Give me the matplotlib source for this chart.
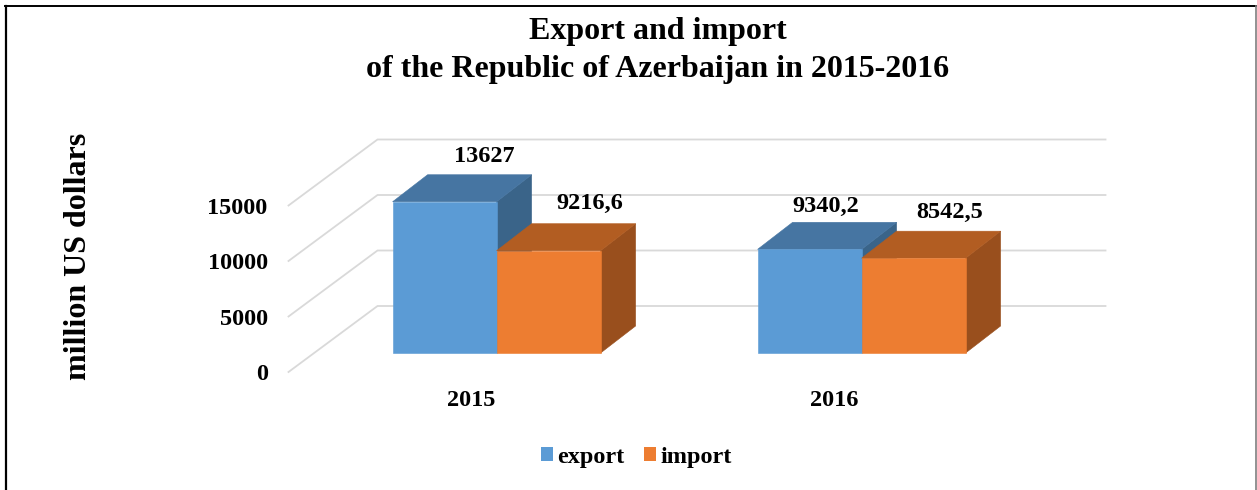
import matplotlib
matplotlib.use("Agg")
import matplotlib.pyplot as plt
from matplotlib.patches import Polygon, Patch

years = ["2015", "2016"]
export = [13627, 9340.2]
imports = [9216.6, 8542.5]
export_labels = ["13627", "9340,2"]
import_labels = ["9216,6", "8542,5"]
y_ticks = [0, 5000, 10000, 15000]

plt.rcParams["font.family"] = ["Liberation Serif", "DejaVu Serif"]
plt.rcParams["font.weight"] = "bold"

W, H = 1257, 490
# one year step is 365 px, 5000 units are 55.5 px
PX_X = 1 / 365
PX_Y = 5000 / 55.5
X0_PX, Y0_PX = 471, 372  # pixel of year 0 / value 0 on the front floor edge

fig = plt.figure(figsize=(W / 100, H / 100), dpi=100)
ax = fig.add_axes([0, 0, 1, 1])
ax.set_xlim(-X0_PX * PX_X, (W - X0_PX) * PX_X)
ax.set_ylim(-(H - Y0_PX) * PX_Y, Y0_PX * PX_Y)
ax.axis("off")

# depth of the 3d box
depth_x, depth_y = 89 * PX_X, 66 * PX_Y
x_left, x_right = -0.5, 1.5

grid = "#D9D9D9"
for v in y_ticks:
    ax.plot([x_left, x_left + depth_x, x_right + depth_x - 2 * PX_X],
            [v, v + depth_y, v + depth_y], color=grid, lw=1.3, zorder=1,
            solid_joinstyle="miter")
    ax.annotate(str(v), (x_left, v), xytext=(-15, -2), textcoords="offset points",
                ha="right", va="center", fontsize=17.5, fontweight="bold")

bar_w = 104 * PX_X
# front face sits 25.6 px right and 19 px up of the floor edge, bar is 35 x 27 px deep
off_x, off_y = 25.6 * PX_X, 19 * PX_Y
bar_dx, bar_dy = 35 * PX_X, 27 * PX_Y


def box(x0, val, front, top, side):
    xa, xb = x0 + off_x, x0 + bar_w + off_x
    y0, y1 = off_y, val + off_y
    fl = [(xa, y0), (xb, y0), (xb, y1), (xa, y1)]
    tp = [(xa, y1), (xb, y1), (xb + bar_dx, y1 + bar_dy), (xa + bar_dx, y1 + bar_dy)]
    sd = [(xb, y0), (xb + bar_dx, y0 + bar_dy), (xb + bar_dx, y1 + bar_dy), (xb, y1)]
    for pts, col in [(sd, side), (tp, top), (fl, front)]:
        ax.add_patch(Polygon(pts, closed=True, facecolor=col, edgecolor=col, lw=0.4, zorder=3))


blue = ("#5B9BD5", "#4675A2", "#3A6489")
orange = ("#ED7D31", "#B25D22", "#994F1D")

# pixel nudges for value labels, relative to the front-top centre of the bar
exp_nudge = [(40, 45), (16, 43)]
imp_nudge = [(41, 47), (36, 46)]

for i, yr in enumerate(years):
    box(i - bar_w, export[i], *blue)
    box(i, imports[i], *orange)
    ex, ey = i - bar_w / 2 + off_x, export[i] + off_y
    ax.text(ex + exp_nudge[i][0] * PX_X, ey + exp_nudge[i][1] * PX_Y, export_labels[i],
            ha="center", va="center", fontsize=17.5, zorder=5)
    ix, iy = i + bar_w / 2 + off_x, imports[i] + off_y
    ax.text(ix + imp_nudge[i][0] * PX_X, iy + imp_nudge[i][1] * PX_Y, import_labels[i],
            ha="center", va="center", fontsize=17.5, zorder=5)
    ax.text(i - 2 * PX_X * i, -29 * PX_Y, yr, ha="center", va="center", fontsize=17.5)

fig.text(658 / W, 1 - 32 / H, "Export and import", ha="center", va="center", fontsize=23, fontweight="bold")
fig.text(658 / W, 1 - 70 / H, "of the Republic of Azerbaijan in 2015-2016", ha="center", va="center",
         fontsize=23, fontweight="bold")
fig.text(78 / W, 1 - 256 / H, "million US dollars", rotation=90, ha="center", va="center",
         fontsize=23, fontweight="bold")

handles = [Patch(facecolor=blue[0], label="export"), Patch(facecolor=orange[0], label="import")]
ax.legend(handles=handles, ncol=2, frameon=False, fontsize=17.5,
          loc="center", bbox_to_anchor=(636.5 / W, 1 - 457 / H),
          handlelength=0.49, handleheight=0.49, handletextpad=0.17, columnspacing=0.82)

# outer frame
fig.add_artist(plt.Line2D([6 / W, 6 / W], [0, 1 - 6 / H], color="black", lw=1.6))
fig.add_artist(plt.Line2D([5 / W, 1], [1 - 6.5 / H, 1 - 6.5 / H], color="black", lw=1.4))
fig.add_artist(plt.Line2D([1256 / W, 1256 / W], [0, 1 - 6 / H], color="#7F7F7F", lw=1.2))

fig.savefig("out.png", dpi=100)
